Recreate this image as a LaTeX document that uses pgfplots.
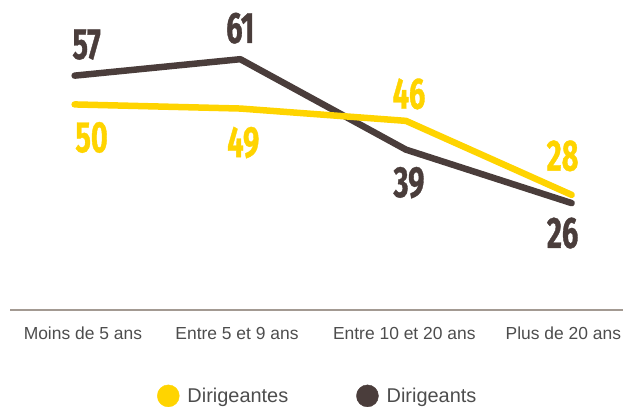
\documentclass[border=0pt]{standalone}
\usepackage{pgfplots}
\pgfplotsset{compat=1.18}
\usepackage{pgfplotstable}
\usepackage{fontspec}
\setmainfont{Liberation Sans}
\newfontfamily\numfont[FakeStretch=0.66,FakeBold=0.8,Numbers=Lining]{Fira Sans}
\definecolor{ylw}{HTML}{FFD400}
\definecolor{drk}{HTML}{4A3D3B}
\definecolor{axc}{HTML}{A39A92}
\definecolor{txt}{HTML}{4D4D4D}

\pgfplotstableread{
x y dx dy
0 50 17 -33
1 49 3 -34
2 46 3 27
3 28 -9 39
}\fem
\pgfplotstableread{
x y dx dy
0 57 12 31
1 61 0 31
2 39 3 -33
3 26 -9 -30
}\men

\begin{document}
\begin{tikzpicture}
\useasboundingbox (-10bp,-97bp) rectangle (613bp,310bp);
\begin{axis}[
  at={(0,0)}, anchor=south west,
  scale only axis, width=613bp, height=310bp,
  xmin=-0.39, xmax=3.31, ymin=0, ymax=75.4,
  axis x line*=bottom, axis y line=none,
  x axis line style={draw=axc, line width=1.5bp, -},
  xtick={0.05,0.98,1.99,2.95},
  xticklabels={Moins de 5 ans, Entre 5 et 9 ans, Entre 10 et 20 ans, Plus de 20 ans},
  major tick length=0pt, ytick=\empty,
  xticklabel style={font=\fontsize{17.5}{20}\selectfont, text=txt, anchor=center, yshift=-23bp},
  clip=false,
  legend image code/.code={\fill[#1] (0bp,0bp) circle (11bp);},
  legend style={at={(0.502,-0.277)}, anchor=center, draw=none, fill=none,
    legend columns=2, font=\fontsize{20}{22}\selectfont, text=txt,
    /tikz/every odd column/.append style={column sep=6bp},
    /tikz/every even column/.append style={column sep=66bp}},
  point meta=explicit symbolic,
  nodes near coords,
  visualization depends on={\thisrow{dx}\as\dx},
  visualization depends on={\thisrow{dy}\as\dy},
  every node near coord/.append style={anchor=center, xshift={\dx*1bp}, yshift={\dy*1bp},
    font=\numfont\bfseries\fontsize{44}{44}\selectfont},
]
\addlegendimage{ylw}
\addlegendentry{Dirigeantes}
\addlegendimage{drk}
\addlegendentry{Dirigeants}
\addplot[drk, line width=6.5bp, line join=round, line cap=round, forget plot,
  every node near coord/.append style={text=drk}] table[x=x, y=y, meta=y] {\men};
\addplot[ylw, line width=6.5bp, line join=round, line cap=round, forget plot,
  every node near coord/.append style={text=ylw}] table[x=x, y=y, meta=y] {\fem};
\end{axis}
\end{tikzpicture}
\end{document}
